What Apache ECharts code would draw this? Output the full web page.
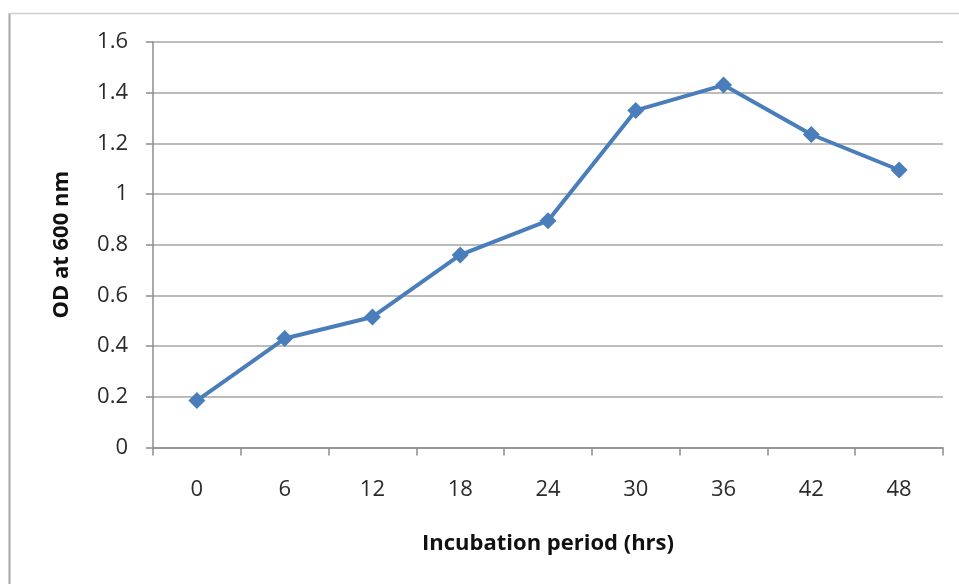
<!DOCTYPE html>
<html>
<head>
<meta charset="utf-8">
<script src="https://cdn.jsdelivr.net/npm/echarts@6/dist/echarts.min.js"></script>
<style>
  html, body { margin: 0; padding: 0; background: #ffffff; }
  #chart { width: 959px; height: 584px; }
</style>
</head>
<body>
<div id="chart"></div>
<script>
// Incubation time points (hours)
const hours = ['0', '6', '12', '18', '24', '30', '36', '42', '48'];
// Optical density readings at 600 nm
const odValues = [0.185, 0.43, 0.515, 0.76, 0.895, 1.33, 1.43, 1.235, 1.095];
// Value axis range
const yMin = 0;
const yMax = 1.6;
const yStep = 0.2;

const chart = echarts.init(document.getElementById('chart'), null, { renderer: 'canvas' });

const labelFont = '"Open Sans", "DejaVu Sans", sans-serif';

chart.setOption({
  backgroundColor: '#ffffff',
  animation: false,
  graphic: [
    // outer frame (left and top edges)
    { type: 'line', shape: { x1: 9.5, y1: 13, x2: 9.5, y2: 584 }, style: { stroke: '#a6a6a6', lineWidth: 2 } },
    { type: 'line', shape: { x1: 9, y1: 13.5, x2: 959, y2: 13.5 }, style: { stroke: '#d0d0d0', lineWidth: 1.5 } }
  ],
  grid: { left: 153, right: 16, top: 42, bottom: 136.5, containLabel: false },
  xAxis: {
    type: 'category',
    data: hours,
    boundaryGap: true,
    name: 'Incubation period (hrs)',
    nameLocation: 'middle',
    nameGap: 85,
    nameTextStyle: { fontFamily: labelFont, fontSize: 22, fontWeight: 'bold', color: '#111111' },
    axisLine: { lineStyle: { color: '#8c8c8c', width: 1.5 } },
    axisTick: { show: true, length: 8, inside: false, lineStyle: { color: '#8c8c8c', width: 1.5 } },
    axisLabel: { fontFamily: labelFont, fontSize: 22, color: '#2b2b2b', margin: 31 },
    splitLine: { show: false }
  },
  yAxis: {
    type: 'value',
    min: yMin,
    max: yMax,
    interval: yStep,
    name: 'OD at 600 nm',
    nameLocation: 'middle',
    nameGap: 80,
    nameRotate: 90,
    nameTextStyle: { fontFamily: labelFont, fontSize: 22, fontWeight: 'bold', color: '#111111' },
    axisLine: { show: true, lineStyle: { color: '#8c8c8c', width: 1.5 } },
    axisTick: { show: true, length: 7, inside: false, lineStyle: { color: '#8c8c8c', width: 1.5 } },
    axisLabel: { fontFamily: labelFont, fontSize: 22, color: '#2b2b2b', margin: 25 },
    splitLine: { show: true, lineStyle: { color: '#a6a6a6', width: 1.5 } }
  },
  series: [{
    type: 'line',
    data: odValues,
    symbol: 'diamond',
    symbolSize: 17,
    itemStyle: { color: '#4a7ebb' },
    lineStyle: { color: '#4a7ebb', width: 4 }
  }]
});
</script>
</body>
</html>
